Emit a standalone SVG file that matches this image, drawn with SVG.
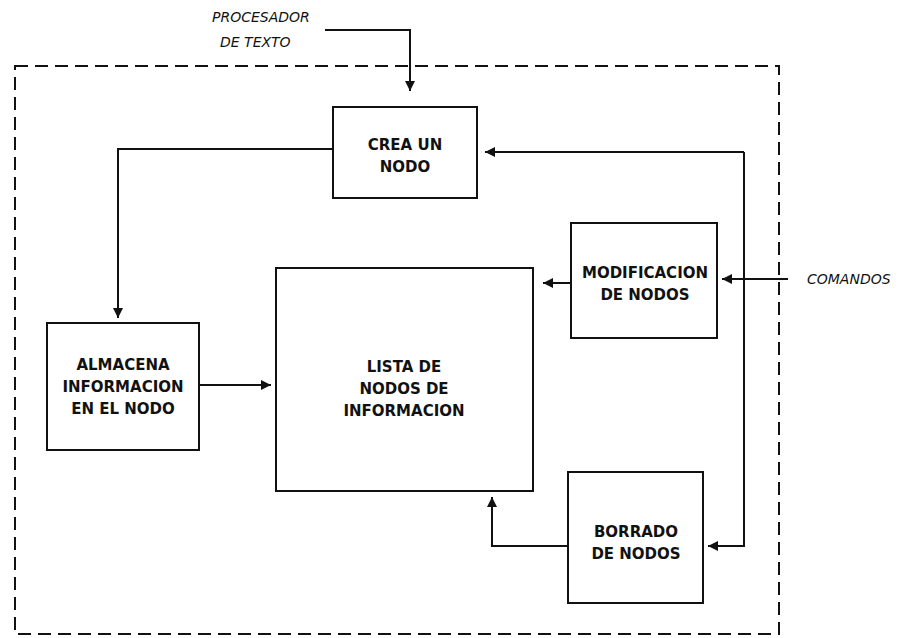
<svg xmlns="http://www.w3.org/2000/svg" width="898" height="638" viewBox="0 0 898 638">
<style>
.box{fill:none;stroke:#111;stroke-width:2}
.lbl{font-family:"DejaVu Sans",sans-serif;font-weight:bold;font-size:15px;fill:#111;text-anchor:middle}
.it{font-family:"DejaVu Sans",sans-serif;font-style:italic;font-size:14px;fill:#111}
.ln{fill:none;stroke:#111;stroke-width:2}
</style>
<defs>
<marker id="ah" viewBox="0 0 10 10" refX="10" refY="5" markerWidth="10" markerHeight="10" markerUnits="userSpaceOnUse" orient="auto">
<path d="M0,0 L10,5 L0,10 z" fill="#111"/>
</marker>
</defs>
<rect x="0" y="0" width="898" height="638" fill="#fff"/>
<rect id="frame" x="15" y="66" width="764" height="568" fill="none" stroke="#111" stroke-width="2" stroke-dasharray="13 7"/>
<g id="procesador">
<text class="it" x="212" y="22">PROCESADOR</text>
<text class="it" x="220" y="47">DE TEXTO</text>
</g>
<g id="comandos">
<text class="it" x="807" y="284">COMANDOS</text>
</g>
<g id="crea">
<rect class="box" x="333" y="107" width="144" height="91"/>
<text class="lbl" x="405" y="150">CREA UN</text>
<text class="lbl" x="405" y="172">NODO</text>
</g>
<g id="almacena">
<rect class="box" x="47" y="323" width="152" height="127"/>
<text class="lbl" x="123" y="370">ALMACENA</text>
<text class="lbl" x="123" y="392">INFORMACION</text>
<text class="lbl" x="123" y="414">EN EL NODO</text>
</g>
<g id="lista">
<rect class="box" x="276" y="268" width="257" height="223"/>
<text class="lbl" x="404" y="372">LISTA DE</text>
<text class="lbl" x="404" y="394">NODOS DE</text>
<text class="lbl" x="404" y="416">INFORMACION</text>
</g>
<g id="modificacion">
<rect class="box" x="571" y="223" width="146" height="115"/>
<text class="lbl" x="645" y="278">MODIFICACION</text>
<text class="lbl" x="645" y="300">DE NODOS</text>
</g>
<g id="borrado">
<rect class="box" x="568" y="472" width="135" height="131"/>
<text class="lbl" x="636" y="537">BORRADO</text>
<text class="lbl" x="636" y="559">DE NODOS</text>
</g>
<g id="connectors">
<path class="ln" d="M325,30 H410 V91" marker-end="url(#ah)"/>
<path class="ln" d="M333,149 H118 V318" marker-end="url(#ah)"/>
<path class="ln" d="M199,385 H271" marker-end="url(#ah)"/>
<path class="ln" d="M571,283 H543" marker-end="url(#ah)"/>
<path class="ln" d="M788,279 H722" marker-end="url(#ah)"/>
<path class="ln" d="M744,152 H485" marker-end="url(#ah)"/>
<path class="ln" d="M744,152 V546 H708" marker-end="url(#ah)"/>
<path class="ln" d="M568,546 H492 V497" marker-end="url(#ah)"/>
</g>
</svg>
